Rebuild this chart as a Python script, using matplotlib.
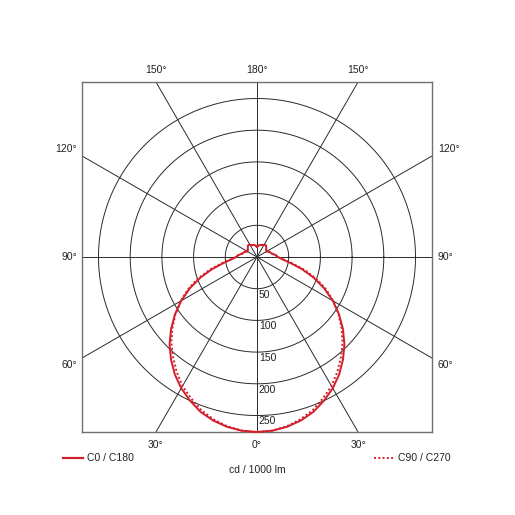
import numpy as np
import matplotlib
matplotlib.use("Agg")
import matplotlib.pyplot as plt
from matplotlib.lines import Line2D

plt.rcParams['font.family'] = ['Liberation Sans', 'DejaVu Sans']

# ---------------- data ----------------
gamma = [0, 5, 10, 15, 20, 25, 30, 35, 40, 45, 50, 55, 60, 65, 70, 75, 80, 85, 90,
         95, 100, 105, 110, 115, 120, 125, 130, 135, 140, 145, 150, 155, 160, 165, 170, 175, 180]
c0_c180 = [276, 275, 272, 267, 260, 250, 239, 226, 211, 195, 177, 158, 138, 117, 95, 73, 53, 40, 33,
           30, 26, 23, 22, 20, 17, 18, 19, 20.5, 22.5, 23, 22, 21, 20, 19.5, 19, 17.5, 16]
c90_c270 = [276, 275, 271, 265, 257, 246, 235, 221, 206, 191, 174, 157, 139, 120, 99, 77, 56, 41, 33,
            30, 26, 23, 22, 20, 17, 18, 19, 20.5, 22.5, 23, 22, 21, 20, 19.5, 19, 17.5, 16]
radial_ticks = [50, 100, 150, 200, 250]
spoke_angles = [0, 30, 60, 90, 120, 150, 180, 210, 240, 270, 300, 330]
bottom_labels = ["30°", "0°", "30°"]
top_labels = ["150°", "180°", "150°"]
side_labels = ["120°", "90°", "60°"]
legend_labels = ["C0 / C180", "C90 / C270"]
unit_label = "cd / 1000 lm"

R_MAX = 276
RED = '#d21f2b'
GRID = '#2a2a2a'
FS = 7.5

fig = plt.figure(figsize=(5.15, 5.15), dpi=100)
ax = fig.add_axes([82 / 515, 1 - 432 / 515, 350 / 515, 350 / 515])
ax.set_xlim(-R_MAX, R_MAX)
ax.set_ylim(-R_MAX, R_MAX)
ax.set_xticks([])
ax.set_yticks([])
for s in ax.spines.values():
    s.set_color('#707070')
    s.set_linewidth(1.0)

# circles
t = np.linspace(0, 2 * np.pi, 721)
for r in radial_ticks:
    ax.plot(r * np.cos(t), r * np.sin(t), color=GRID, lw=0.7, zorder=1)
    ax.text(3, -r - 1.5, str(r), ha='left', va='top', fontsize=FS, color='#222222', zorder=2)

# spokes
for a in spoke_angles:
    ar = np.radians(a)
    ax.plot([0, 2 * R_MAX * np.sin(ar)], [0, -2 * R_MAX * np.cos(ar)], color=GRID, lw=0.7, zorder=1)

# curves
g = np.radians(np.array(gamma, dtype=float))


def closed_xy(vals):
    v = np.array(vals, dtype=float)
    xl = -v[::-1] * np.sin(g[::-1])
    yl = -v[::-1] * np.cos(g[::-1])
    xr = v * np.sin(g)
    yr = -v * np.cos(g)
    return np.concatenate([xl, xr]), np.concatenate([yl, yr])


x0, y0 = closed_xy(c0_c180)
x9, y9 = closed_xy(c90_c270)
ax.plot(x0, y0, color=RED, lw=1.4, zorder=3, clip_on=False)
ax.plot(x9, y9, color=RED, lw=1.4, ls=(0, (1, 1.2)), zorder=3, clip_on=False)

# angle labels
tan30 = np.tan(np.radians(30))
for lab, xx in zip(bottom_labels, [-R_MAX * tan30, 0, R_MAX * tan30]):
    ax.annotate(lab, (xx, -R_MAX), xytext=(0, -13), textcoords='offset pixels',
                ha='center', va='center', fontsize=FS, color='#222222', annotation_clip=False)
for lab, xx in zip(top_labels, [-R_MAX * tan30, 0, R_MAX * tan30]):
    ax.annotate(lab, (xx, R_MAX), xytext=(0, 12), textcoords='offset pixels',
                ha='center', va='center', fontsize=FS, color='#222222', annotation_clip=False)
for lab, yy, dy in zip(side_labels, [R_MAX * tan30, 0, -R_MAX * tan30], [6.5, 0, -6.5]):
    ax.annotate(lab, (-R_MAX, yy), xytext=(-5, dy), textcoords='offset pixels',
                ha='right', va='center', fontsize=FS, color='#222222', annotation_clip=False)
    ax.annotate(lab, (R_MAX, yy), xytext=(6, dy), textcoords='offset pixels',
                ha='left', va='center', fontsize=FS, color='#222222', annotation_clip=False)

# legend
ly = 1 - 457.7 / 515
fig.add_artist(Line2D([62.7 / 515, 82.7 / 515], [ly, ly], color=RED, lw=1.6))
fig.text(87 / 515, ly, legend_labels[0], ha='left', va='center', fontsize=FS, color='#222222')
fig.add_artist(Line2D([374 / 515, 393 / 515], [ly, ly], color=RED, lw=1.4, ls=(0, (1, 1.2))))
fig.text(398 / 515, ly, legend_labels[1], ha='left', va='center', fontsize=FS, color='#222222')
fig.text(257 / 515, 1 - 470 / 515, unit_label, ha='center', va='center', fontsize=FS, color='#222222')

fig.savefig('out.png', dpi=100, facecolor='white')
